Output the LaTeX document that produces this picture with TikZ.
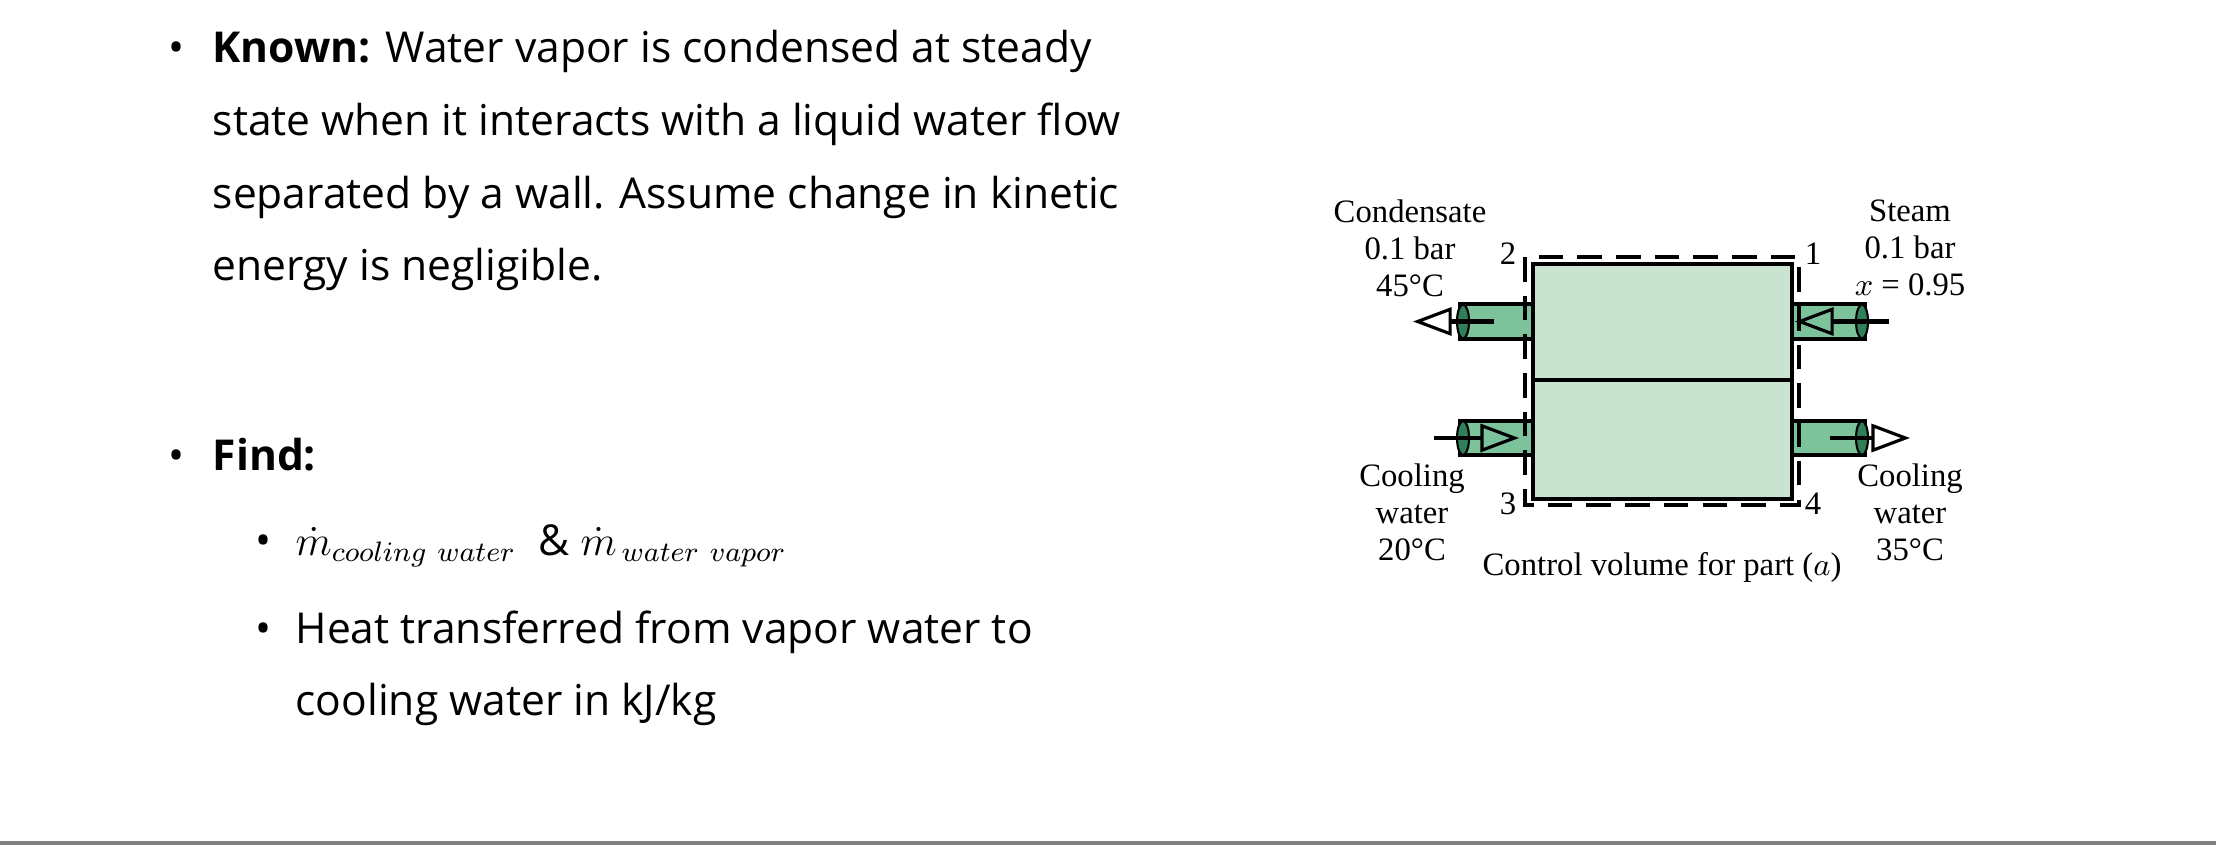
\documentclass[tikz,border=0pt]{standalone}
\usepackage{fontspec}
\usetikzlibrary{arrows.meta}
\setmainfont{Open Sans}
\newfontfamily\serifx{Liberation Serif}
\definecolor{boxg}{HTML}{C9E3D0}
\definecolor{pipeg}{HTML}{7CC29A}
\definecolor{endg}{HTML}{2F7F58}
\begin{document}
\begin{tikzpicture}[x=0.01cm,y=-0.01cm,
 txt/.style={anchor=base west,inner sep=0pt,font=\fontsize{12.1}{14}\selectfont},
 lab/.style={inner sep=0pt,font=\serifx\fontsize{9.3}{10.5}\selectfont,align=center},
 pipe/.style={fill=pipeg,draw=black,line width=0.9pt},
 pend/.style={fill=endg,draw=black,line width=0.6pt},
 flow/.style={line width=1.3pt,-{Triangle[open,length=11pt,width=8pt,line width=0.9pt]}}]
\useasboundingbox (0,0) rectangle (2216,845);
\fill[white] (0,0) rectangle (2216,845);
\draw[gray,line width=1pt] (0,843) -- (2216,843);
% left text
\node[txt] (b1) at (168,62) {•};
\node[txt] (t1) at (212,62) {\textbf{Known:} Water vapor is condensed at steady};
\node[txt] (t2) at (212,135) {state when it interacts with a liquid water flow};
\node[txt] (t3) at (212,208) {separated by a wall. Assume change in kinetic};
\node[txt] (t4) at (212,280) {energy is negligible.};
\node[txt] (b2) at (168,470) {•};
\node[txt] (t5) at (212,470) {\textbf{Find:}};
\node[txt] (b3) at (255,555) {•};
\node[txt] (t6) at (295,555) {$\dot{m}_{cooling\ water}$\ \ \&\ $\dot{m}_{\,water\ vapor}$};
\node[txt] (b4) at (255,643) {•};
\node[txt] (t7) at (295,643) {Heat transferred from vapor water to};
\node[txt] (t8) at (295,715) {cooling water in kJ/kg};
% pipes
\draw[pipe] (1460,304) rectangle (1533,339);
\draw[pipe] (1460,421) rectangle (1533,455);
\draw[pipe] (1792,304) rectangle (1865,339);
\draw[pipe] (1792,421) rectangle (1865,455);
\draw[pend] (1463,321.5) ellipse (6 and 17);
\draw[pend] (1463,438) ellipse (6 and 17);
\draw[pend] (1862,321.5) ellipse (6 and 17);
\draw[pend] (1862,438) ellipse (6 and 17);
% box
\fill[boxg,draw=black,line width=1.1pt] (1533,264) rectangle (1792,499);
\draw[line width=1.1pt] (1533,380) -- (1792,380);
\draw[line width=1pt,dash pattern=on 7pt off 4pt] (1525,257) rectangle (1799,505);
% arrows
\coordinate (a1s) at (1494,321.5); \coordinate (a1e) at (1413,321.5);
\coordinate (a2s) at (1889,321.5); \coordinate (a2e) at (1795,321.5);
\coordinate (a3s) at (1434,438); \coordinate (a3e) at (1519,438);
\coordinate (a4s) at (1830,438); \coordinate (a4e) at (1910,438);
\draw[flow] (a1s) -- (a1e);
\draw[flow] (a2s) -- (a2e);
\draw[flow] (a3s) -- (a3e);
\draw[flow] (a4s) -- (a4e);
% labels
\node[lab] (c) at (1410,248) {Condensate\\0.1 bar\\45°C};
\node[lab] (s) at (1910,248) {Steam\\0.1 bar\\$x$ = 0.95};
\node[lab] (n2) at (1508,254) {2};
\node[lab] (n1) at (1813,254) {1};
\node[lab] (n3) at (1508,504) {3};
\node[lab] (n4) at (1813,504) {4};
\node[lab] (cw1) at (1412,512) {Cooling\\water\\20°C};
\node[lab] (cw2) at (1910,512) {Cooling\\water\\35°C};
\node[lab] (cv) at (1662,567) {Control volume for part ($a$)};
\end{tikzpicture}
\end{document}
